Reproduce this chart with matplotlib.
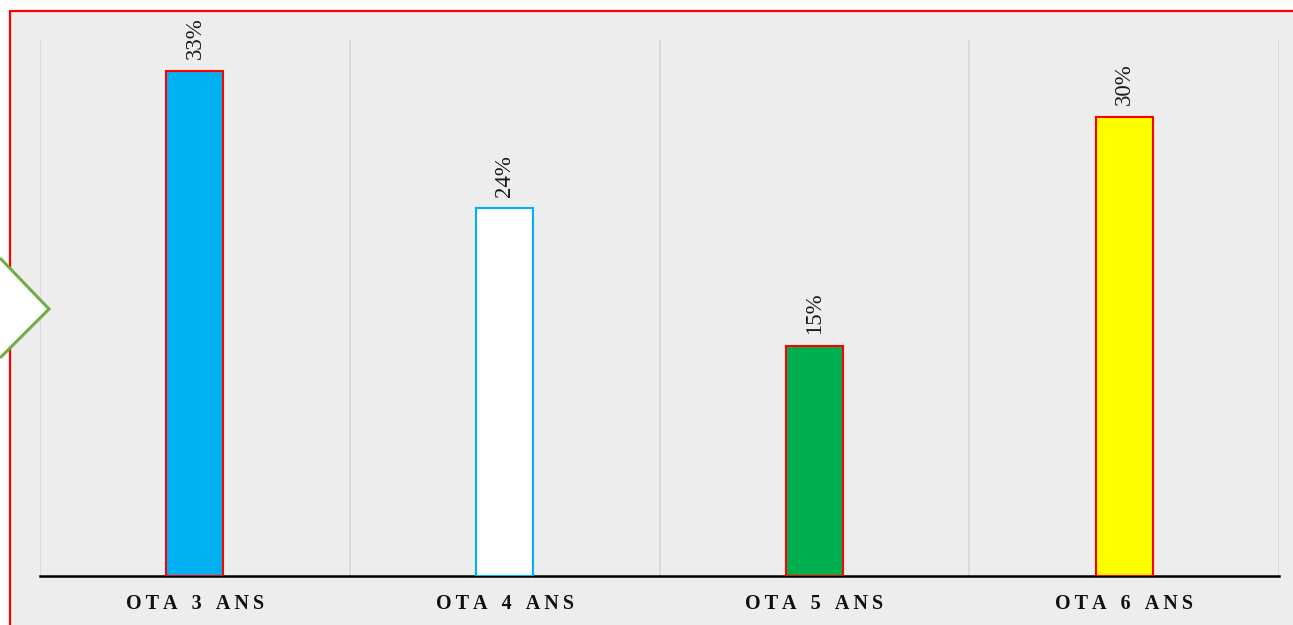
import matplotlib
matplotlib.use("Agg")
import matplotlib.pyplot as plt
from matplotlib.patches import Rectangle, Polygon

categories = ["OTA 3 ANS", "OTA 4 ANS", "OTA 5 ANS", "OTA 6 ANS"]
values = [33, 24, 15, 30]
face_colors = ["#00B0F0", "#FFFFFF", "#00B050", "#FFFF00"]
edge_colors = ["#FF0000", "#00B0F0", "#FF0000", "#FF0000"]

W, H = 1293, 625
fig = plt.figure(figsize=(W / 100, H / 100), dpi=100)
fig.patch.set_facecolor("white")

# gray panel with red border
bg = Rectangle((10 / W, -20 / H), (W - 10 + 20) / W, (H - 11 + 20) / H, transform=fig.transFigure,
               facecolor="#EDEDED", edgecolor="#FF0000", linewidth=1.6, zorder=-10)
fig.patches.append(bg)

ax = fig.add_axes([40 / W, (H - 576) / H, (1279 - 40) / W, (576 - 40) / H])
ax.set_facecolor("none")
ax.set_zorder(1)

x = list(range(len(categories)))
ax.bar(x, values, width=0.184, color=face_colors, edgecolor=edge_colors, linewidth=1.5, zorder=3)

for xi, v in zip(x, values):
    ax.annotate(f"{v}%", (xi, v), xytext=(0, 8.5), textcoords="offset points",
                rotation=90, ha="center", va="bottom", fontsize=16.5,
                family="Liberation Serif", color="#1a1a1a")

ax.set_xlim(-0.5, len(categories) - 0.5)
ax.set_ylim(0, 35)
for b in [i - 0.5 for i in range(len(categories) + 1)]:
    ax.axvline(b, color="#D9D9D9", linewidth=1.3, zorder=1)

for s in ["top", "right", "left"]:
    ax.spines[s].set_visible(False)
ax.spines["bottom"].set_color("black")
ax.spines["bottom"].set_linewidth(1.8)
ax.set_yticks([])
ax.set_xticks(x)


def spaced(label):
    words = ["\u2009".join(w) for w in label.split(" ")]
    return "\u2002\u2009".join(words)


ax.set_xticklabels([spaced(c) for c in categories],
                   family=["Liberation Serif", "DejaVu Serif"], fontweight="bold",
                   fontsize=14.5, color="#111111")
ax.tick_params(axis="x", length=0, pad=13)

# chevron shape on the left
chev = Polygon([(0 / W, 1 - 258 / H), (49 / W, 1 - 309 / H), (0 / W, 1 - 358 / H)],
               closed=False, transform=fig.transFigure, facecolor="white",
               edgecolor="#70AD47", linewidth=2.2, zorder=5)
fig.patches.append(chev)

fig.savefig("out.png", dpi=100)
